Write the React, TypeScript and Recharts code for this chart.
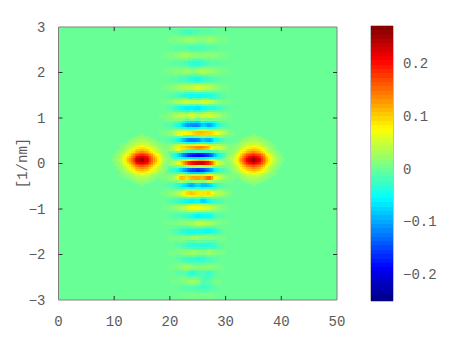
import React from "react";
import { ScatterChart, Scatter, XAxis, YAxis, ReferenceArea, ReferenceLine } from "recharts";

const X_TICKS = [0, 10, 20, 30, 40, 50];
const Y_TICKS = [-3, -2, -1, 0, 1, 2, 3];
const BAR_TICKS = [-0.2, -0.1, 0, 0.1, 0.2];
const V_MIN = -0.251;
const V_MAX = 0.271;
const AXIS_LABEL = "[1/nm]";

const STRIPE_X = [17, 18, 19, 20, 21, 22, 23, 24, 25, 26, 27, 28, 29, 30, 31, 32, 33];
const STRIPE_Y = [3, 2.89, 2.71, 2.54, 2.38, 2.21, 2.03, 1.86, 1.66, 1.48, 1.35, 1.22, 1.04, 0.85, 0.67, 0.52, 0.34, 0.19, 0.01, -0.14, -0.32, -0.47, -0.65, -0.82, -0.98, -1.15, -1.31, -1.48, -1.64, -1.79, -1.95, -2.1, -2.27, -2.41, -2.6, -2.74, -2.89, -3];
// thousandths
const STRIPE_VALUES = [
  [0, 0, 0, 0, 0, 0, 0, 0, 0, 0, 0, 0, 0, 0, 0, 0, 0],
  [0, 0, 0, -4, -10, -18, -30, -26, -14, -12, -10, -6, -4, 0, 0, 0, 0],
  [0, 0, 0, 6, 10, 14, 22, 28, 14, 12, 24, 16, 8, 4, 0, 0, 0],
  [0, 0, 0, -5, -8, -12, -16, -20, -17, -18, -14, -10, -5, -3, 0, 0, 0],
  [0, 0, 4, 8, 12, 22, 32, 20, 14, 16, 18, 12, 10, 4, 0, 0, 0],
  [0, 0, -3, -6, -10, -14, -20, -32, -38, -27, -16, -12, -8, -4, 0, 0, 0],
  [0, 0, 4, 8, 12, 16, 26, 16, 24, 38, 24, 16, 10, 5, 2, 0, 0],
  [0, 0, -3, -7, -12, -18, -24, -38, -45, -32, -20, -14, -9, -4, 0, 0, 0],
  [0, 2, 4, 10, 18, 30, 38, 40, 62, 44, 36, 24, 12, 5, 2, 0, 0],
  [0, -2, -4, -8, -16, -32, -48, -52, -55, -50, -45, -32, -16, -6, -2, 0, 0],
  [0, 2, 5, 12, 24, 42, 60, 46, 42, 65, 50, 30, 15, 6, 2, 0, 0],
  [0, -2, -5, -12, -30, -52, -70, -65, -75, -55, -42, -38, -24, -10, -3, -1, 0],
  [0, 3, 6, 14, 34, 48, 38, 60, 38, 50, 60, 48, 28, 10, 3, 1, 0],
  [0, -3, -6, -12, -30, -60, -115, -120, -125, -80, -110, -78, -36, -12, -4, -1, 0],
  [0, 3, 7, 15, 40, 78, 88, 98, 120, 115, 110, 90, 62, 28, 7, 2, 0],
  [0, -3, -7, -15, -36, -75, -125, -135, -130, -90, -115, -65, -32, -12, -4, -1, 0],
  [0, 3, 7, 18, 52, 100, 115, 130, 150, 140, 115, 65, 55, 24, 7, 2, 0],
  [0, -3, -7, -18, -50, -100, -165, -195, -205, -195, -165, -100, -48, -18, -7, -2, 0],
  [0, 3, 7, 16, 45, 100, 175, 225, 250, 250, 205, 115, 52, 22, 9, 3, 0],
  [0, -3, -7, -15, -38, -82, -130, -165, -175, -165, -130, -68, -30, -12, -4, -1, 0],
  [0, 3, 7, 15, 36, 130, 95, 130, 135, 125, 175, 85, 50, 22, 6, 2, 0],
  [0, -3, -6, -12, -28, -55, -85, -110, -78, -105, -90, -50, -20, -6, -2, 0, 0],
  [0, 3, 6, 12, 30, 55, 100, 110, 90, 95, 100, 50, 38, 18, 5, 1, 0],
  [0, -2, -4, -10, -22, -38, -58, -65, -55, -85, -55, -28, -15, -5, -1, 0, 0],
  [0, 2, 4, 8, 18, 34, 52, 80, 80, 65, 55, 32, 15, 5, 1, 0, 0],
  [0, -1, -3, -7, -14, -22, -28, -45, -65, -50, -55, -24, -10, -4, 0, 0, 0],
  [0, 1, 3, 6, 10, 15, 18, 26, 42, 40, 35, 20, 10, 4, 0, 0, 0],
  [0, 0, -3, -6, -14, -32, -42, -44, -46, -50, -55, -38, -13, -4, 0, 0, 0],
  [0, 0, 2, 4, 8, 12, 16, 22, 26, 17, 20, 12, 7, 3, 0, 0, 0],
  [0, 0, -2, -4, -8, -15, -28, -40, -36, -36, -38, -32, -12, -4, 0, 0, 0],
  [0, 0, 2, 4, 8, 12, 16, 28, 20, 16, 24, 14, 7, 3, 0, 0, 0],
  [0, 0, -2, -4, -7, -16, -30, -32, -35, -32, -20, -12, -5, -2, 0, 0, 0],
  [0, 0, 2, 4, 10, 17, 32, 16, 12, 14, 18, 12, 5, 2, 0, 0, 0],
  [0, 0, -2, -3, -7, -12, -16, -38, -24, -16, -30, -12, -4, -2, 0, 0, 0],
  [0, 0, 2, 3, 6, 10, 14, 30, 18, -15, -12, 7, 4, 2, 0, 0, 0],
  [0, 0, 0, -2, -4, -8, -10, -14, -20, -25, -20, -10, -4, 0, 0, 0, 0],
  [0, 0, 0, 2, 3, 4, 7, 11, 7, 5, 7, 4, 2, 0, 0, 0, 0],
  [0, 0, 0, 0, 0, 0, 0, 0, 0, 0, 0, 0, 0, 0, 0, 0, 0],
];

const BLOB_LEFT_X = [9, 10, 11, 12, 13, 14, 15, 16, 17, 18, 19, 20, 21];
const BLOB_RIGHT_X = [29, 30, 31, 32, 33, 34, 35, 36, 37, 38, 39, 40, 41];
const BLOB_Y = [0.72, 0.64, 0.56, 0.48, 0.4, 0.32, 0.24, 0.16, 0.08, 0, -0.08, -0.16, -0.24, -0.32, -0.4, -0.48, -0.56];
const BLOB_VALUES = [
  [0, 0, 0, 0, 0, 0, 0, 0, 0, 0, 0, 0, 0],
  [0, 0, 1, 2, 4, 6, 8, 6, 4, 2, 1, 0, 0],
  [0, 1, 2, 4, 8, 14, 18, 14, 8, 4, 2, 1, 0],
  [1, 2, 4, 9, 17, 28, 35, 28, 17, 9, 4, 2, 1],
  [1, 3, 8, 16, 32, 52, 62, 52, 32, 16, 8, 3, 1],
  [2, 5, 12, 27, 55, 88, 100, 88, 55, 27, 12, 5, 2],
  [3, 7, 16, 42, 85, 130, 150, 130, 85, 42, 16, 7, 3],
  [4, 9, 22, 65, 115, 180, 205, 180, 115, 65, 22, 9, 4],
  [5, 14, 38, 85, 145, 235, 268, 235, 145, 85, 38, 14, 5],
  [4, 9, 22, 65, 115, 180, 205, 180, 115, 65, 22, 9, 4],
  [3, 7, 16, 42, 85, 130, 150, 130, 85, 42, 16, 7, 3],
  [2, 5, 12, 27, 55, 88, 100, 88, 55, 27, 12, 5, 2],
  [1, 3, 8, 16, 32, 52, 62, 52, 32, 16, 8, 3, 1],
  [1, 2, 4, 9, 17, 28, 35, 28, 17, 9, 4, 2, 1],
  [0, 1, 2, 4, 8, 14, 18, 14, 8, 4, 2, 1, 0],
  [0, 0, 1, 2, 4, 6, 8, 6, 4, 2, 1, 0, 0],
  [0, 0, 0, 0, 0, 0, 0, 0, 0, 0, 0, 0, 0],
];

const COLORBAR_LEVELS = [
  -0.247, -0.239, -0.231, -0.223, -0.215, -0.206, -0.198, -0.19, -0.182, -0.174, -0.166, -0.157, -0.149, -0.141, -0.133, -0.125,
  -0.117, -0.108, -0.1, -0.092, -0.084, -0.076, -0.068, -0.059, -0.051, -0.043, -0.035, -0.027, -0.019, -0.01, -0.002, 0.006,
  0.014, 0.022, 0.03, 0.039, 0.047, 0.055, 0.063, 0.071, 0.079, 0.088, 0.096, 0.104, 0.112, 0.12, 0.128, 0.137,
  0.145, 0.153, 0.161, 0.169, 0.177, 0.186, 0.194, 0.202, 0.21, 0.218, 0.226, 0.235, 0.243, 0.251, 0.259, 0.267,
];

const W = 450;
const H = 338;
const PLOT = { left: 58.5, right: 337, top: 27, bottom: 300 };
const BAR = { left: 371, right: 393, top: 26, bottom: 301 };
const PX_X = (PLOT.right - PLOT.left) / 50;
const PX_Y = (PLOT.bottom - PLOT.top) / 6;
const FONT = { fontFamily: "'Liberation Mono', monospace", fontSize: 14, fill: "#5a5a5a" };
const BORDER = "#808080";
const TICK = "#333";
const STRIPE_FLOOR = 0.003;
const BLOB_FLOOR = 0.01;

const clamp = (a: number) => Math.max(0, Math.min(1, a));
function jet(v: number) {
  const level = Math.max(0, Math.min(63, Math.floor(((v - V_MIN) / (V_MAX - V_MIN)) * 64)));
  const t = (level + 0.5) / 64;
  const r = clamp(Math.min(4 * t - 1.5, -4 * t + 4.5));
  const g = clamp(Math.min(4 * t - 0.5, -4 * t + 3.5));
  const b = clamp(Math.min(4 * t + 0.5, -4 * t + 2.5));
  return `rgb(${Math.round(r * 255)},${Math.round(g * 255)},${Math.round(b * 255)})`;
}

type Node = { x: number; y: number; a: number; b: number; c: number; d: number; w: number; h: number; ease: boolean; floor: number };

function nodes(xs: number[], ys: number[], rows: number[][], ease: boolean, floor: number): Node[] {
  const out: Node[] = [];
  for (let j = 0; j < ys.length - 1; j++) {
    for (let i = 0; i < xs.length - 1; i++) {
      out.push({
        x: xs[i],
        y: ys[j],
        a: rows[j][i] / 1000,
        b: rows[j][i + 1] / 1000,
        c: rows[j + 1][i] / 1000,
        d: rows[j + 1][i + 1] / 1000,
        w: xs[i + 1] - xs[i],
        h: ys[j] - ys[j + 1],
        ease,
        floor,
      });
    }
  }
  return out;
}

const stripeNodes = nodes(STRIPE_X, STRIPE_Y, STRIPE_VALUES, true, STRIPE_FLOOR);
const leftNodes = nodes(BLOB_LEFT_X, BLOB_Y, BLOB_VALUES, false, BLOB_FLOOR);
const rightNodes = nodes(BLOB_RIGHT_X, BLOB_Y, BLOB_VALUES, false, BLOB_FLOOR);

// Shades a grid cell the way a shaded heat map does, starting at the library's own point position.
function Cell(props: any) {
  const { cx, cy, payload } = props;
  const p = payload as Node;
  if (Math.max(Math.abs(p.a), Math.abs(p.b), Math.abs(p.c), Math.abs(p.d)) < p.floor) return <g />;
  const wPx = p.w * PX_X;
  const hPx = p.h * PX_Y;
  const nx = Math.max(1, Math.round(wPx / 2));
  const ny = Math.max(1, Math.round(hPx / 2));
  const rects: React.ReactNode[] = [];
  for (let j = 0; j < ny; j++) {
    const u0 = (j + 0.5) / ny;
    const u = p.ease ? (1 - Math.cos(Math.PI * u0)) / 2 : u0;
    for (let i = 0; i < nx; i++) {
      const s = (i + 0.5) / nx;
      const v = (p.a * (1 - s) + p.b * s) * (1 - u) + (p.c * (1 - s) + p.d * s) * u;
      if (Math.abs(v) < p.floor) continue;
      rects.push(
        <rect
          key={`${i}-${j}`}
          x={cx + (i * wPx) / nx}
          y={cy + (j * hPx) / ny}
          width={wPx / nx + 0.4}
          height={hPx / ny + 0.4}
          fill={jet(v)}
          shapeRendering="crispEdges"
        />
      );
    }
  }
  return <g>{rects}</g>;
}

function Level(props: any) {
  const { cy, payload } = props;
  const h = (BAR.bottom - BAR.top) / 64;
  return (
    <rect
      x={BAR.left}
      y={cy - h / 2 - 0.2}
      width={BAR.right - BAR.left}
      height={h + 0.4}
      fill={jet(payload.y)}
      shapeRendering="crispEdges"
    />
  );
}

const minus = (v: number | string) => String(v).replace("-", "\u2212");
const barData = COLORBAR_LEVELS.map((y) => ({ x: 0.5, y }));

export default function App() {
  return (
    <div style={{ position: "absolute", left: 0, top: 0, width: W, height: H, background: "#fff" }}>
      <div style={{ position: "absolute", left: 0, top: 0 }}>
        <ScatterChart
          width={W}
          height={H}
          margin={{ top: PLOT.top, right: W - PLOT.right, bottom: 0, left: 0 }}
        >
          <XAxis
            type="number"
            dataKey="x"
            domain={[0, 50]}
            ticks={X_TICKS}
            height={H - PLOT.bottom}
            axisLine={false}
            tickLine={false}
            tickSize={0}
            tickMargin={16}
            tick={FONT}
            interval={0}
            allowDataOverflow
          />
          <YAxis
            type="number"
            dataKey="y"
            domain={[-3, 3]}
            ticks={Y_TICKS}
            width={PLOT.left}
            axisLine={false}
            tickLine={false}
            tickSize={0}
            tickMargin={13}
            tick={FONT}
            tickFormatter={minus}
            interval={0}
            allowDataOverflow
          />
          <ReferenceArea x1={0} x2={50} y1={-3} y2={3} fill={jet(0)} fillOpacity={1} stroke="none" />
          <Scatter data={stripeNodes} isAnimationActive={false} shape={Cell} />
          <Scatter data={leftNodes} isAnimationActive={false} shape={Cell} />
          <Scatter data={rightNodes} isAnimationActive={false} shape={Cell} />
          <ReferenceArea x1={0} x2={50} y1={-3} y2={3} fill="none" stroke={BORDER} strokeWidth={1} />
          {X_TICKS.slice(1, -1).map((t) => (
            <ReferenceLine key={`b${t}`} stroke={TICK} segment={[{ x: t, y: -3 }, { x: t, y: -2.91 }]} />
          ))}
          {X_TICKS.slice(1, -1).map((t) => (
            <ReferenceLine key={`t${t}`} stroke={TICK} segment={[{ x: t, y: 3 }, { x: t, y: 2.91 }]} />
          ))}
          {Y_TICKS.slice(1, -1).map((t) => (
            <ReferenceLine key={`l${t}`} stroke={TICK} segment={[{ x: 0, y: t }, { x: 0.72, y: t }]} />
          ))}
          {Y_TICKS.slice(1, -1).map((t) => (
            <ReferenceLine key={`r${t}`} stroke={TICK} segment={[{ x: 50, y: t }, { x: 49.28, y: t }]} />
          ))}
          <text
            x={23}
            y={163}
            transform="rotate(-90 23 163)"
            textAnchor="middle"
            dominantBaseline="central"
            {...FONT}
          >
            {AXIS_LABEL}
          </text>
        </ScatterChart>
      </div>
      <div style={{ position: "absolute", left: 0, top: 0 }}>
        <ScatterChart
          width={W}
          height={H}
          margin={{ top: BAR.top, right: 0, bottom: H - BAR.bottom, left: BAR.left }}
        >
          <XAxis type="number" dataKey="x" domain={[0, 1]} hide />
          <YAxis
            type="number"
            dataKey="y"
            orientation="right"
            domain={[V_MIN, V_MAX]}
            ticks={BAR_TICKS}
            width={W - BAR.right}
            axisLine={false}
            tickLine={false}
            tickSize={0}
            tickMargin={10}
            tick={FONT}
            tickFormatter={minus}
            interval={0}
            allowDataOverflow
          />
          <Scatter data={barData} isAnimationActive={false} shape={Level} />
          <ReferenceArea x1={0} x2={1} y1={V_MIN} y2={V_MAX} fill="none" stroke={BORDER} strokeWidth={1} />
          {BAR_TICKS.map((t) => (
            <ReferenceLine key={`bl${t}`} stroke={TICK} segment={[{ x: 0, y: t }, { x: 0.16, y: t }]} />
          ))}
          {BAR_TICKS.map((t) => (
            <ReferenceLine key={`br${t}`} stroke={TICK} segment={[{ x: 1, y: t }, { x: 0.84, y: t }]} />
          ))}
        </ScatterChart>
      </div>
    </div>
  );
}
